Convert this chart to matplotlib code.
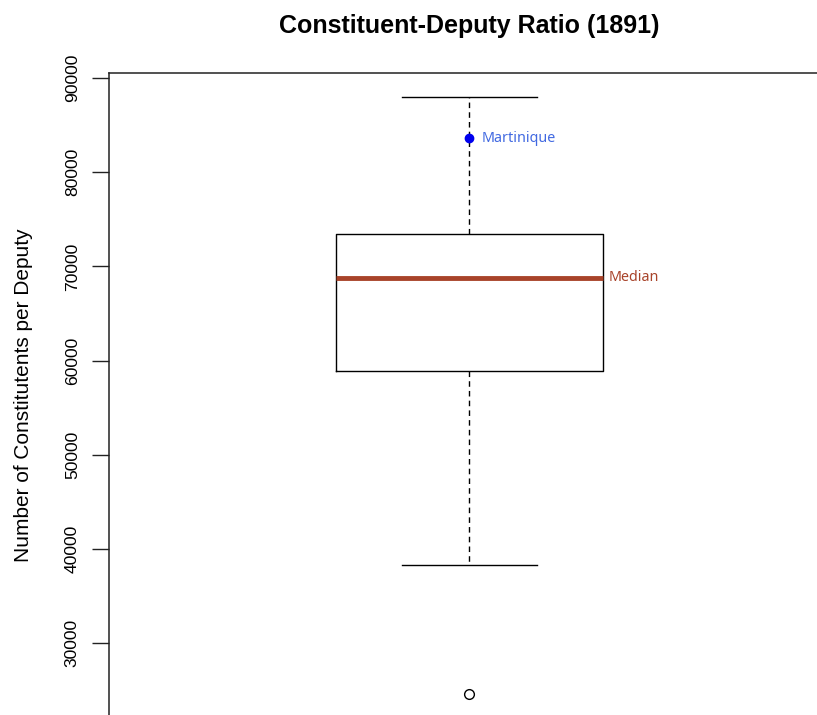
import matplotlib
matplotlib.use("Agg")
import matplotlib.pyplot as plt
import numpy as np

# box statistics (constituents per deputy, 1891)
whisker_low = 38300
q1 = 58900
median = 68800
q3 = 73400
whisker_high = 88000
outliers = [24600]
martinique = 83600

yticks = [30000, 40000, 50000, 60000, 70000, 80000, 90000]

plt.rcParams['font.family'] = ['Liberation Sans', 'DejaVu Sans']

fig = plt.figure(figsize=(8.17, 7.15), dpi=100)
# axes runs off the right and bottom edge like the cropped original
ax = fig.add_axes([109/817, -3/715, 721/817, 645/715])

stats = [{'whislo': whisker_low, 'q1': q1, 'med': median, 'q3': q3,
          'whishi': whisker_high, 'fliers': outliers}]
ax.bxp(stats, positions=[1], widths=0.37, showfliers=True,
       boxprops=dict(color='black', linewidth=1),
       whiskerprops=dict(color='black', linewidth=1, linestyle=(0, (4, 3))),
       capprops=dict(color='black', linewidth=1),
       medianprops=dict(color='#A8432A', linewidth=3.5, solid_capstyle='butt'),
       flierprops=dict(marker='o', markerfacecolor='none', markeredgecolor='black',
                       markersize=7, markeredgewidth=1),
       capwidths=0.187)

ax.plot([1], [martinique], 'o', color='#0000EE', markersize=6, zorder=5)
ax.text(1.017, martinique, 'Martinique', color='#4169E1', fontsize=10.3,
        family=['Noto Sans', 'DejaVu Sans'], va='center', ha='left')
ax.text(1.193, median, 'Median', color='#A8432A', fontsize=10.3,
        family=['Noto Sans', 'DejaVu Sans'], va='center', ha='left')

lo = min(outliers + [whisker_low])
hi = whisker_high
pad = 0.04 * (hi - lo)
ax.set_ylim(lo - pad, hi + pad)
ax.set_xlim(0.5, 1.5)

ax.set_yticks(yticks)
ax.set_yticklabels([str(t) for t in yticks], rotation=90, va='center', fontsize=12.6)
ax.tick_params(axis='y', length=12, width=1, pad=9, colors='#222222', labelcolor='black')
ax.set_xticks([])

for s in ['right', 'bottom']:
    ax.spines[s].set_visible(False)
for s in ['left', 'top']:
    ax.spines[s].set_linewidth(1.1)
    ax.spines[s].set_color('#222222')

ax.set_ylabel('Number of Constitutents per Deputy', fontsize=15, labelpad=23)
fig.text((109 + 721/2)/817, 1 - 26/715, 'Constituent-Deputy Ratio (1891)',
         ha='center', va='center', fontsize=18, fontweight='bold')

fig.savefig('out.png', dpi=100)
